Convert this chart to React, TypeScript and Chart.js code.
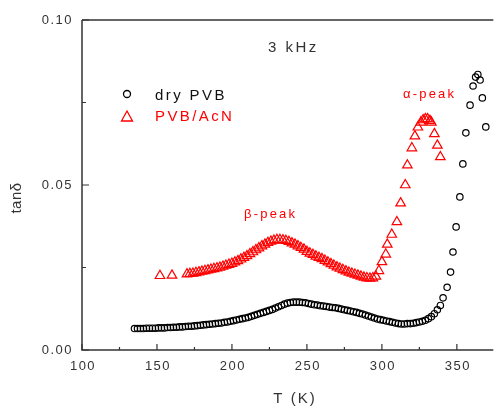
import React, { useEffect, useRef } from "react";
import { Chart, registerables } from "chart.js";

Chart.register(...registerables);

// ---- data ----
const dryT = [
  135, 137, 139, 141, 143, 145, 147, 149, 151, 153, 155, 157, 159, 161, 163, 165, 167, 169, 171, 173,
  175, 177, 179, 181, 183, 185, 187, 189, 191, 193, 195, 197, 199, 201, 203, 205, 207, 209, 211, 213,
  215, 217, 219, 221, 223, 225, 227, 229, 231, 233, 235, 237, 239, 241, 243, 245, 247, 249, 251, 253,
  255, 257, 259, 261, 263, 265, 267, 269, 271, 273, 275, 277, 279, 281, 283, 285, 287, 289, 291, 293,
  295, 297, 299, 301, 303, 305, 307, 309, 311, 313, 315, 317, 319, 321, 323, 325, 327, 329, 331, 333,
  335, 337, 339, 340.8, 343.5, 345.8, 347.4, 349.5, 352, 354, 356, 358.8, 360.8, 362.5, 364, 365.5, 367, 369.3,
];
const dryTan = [
  0.0065, 0.0065, 0.0065, 0.0065, 0.0066, 0.0066, 0.0066, 0.0066, 0.0067, 0.0067, 0.0067, 0.0068, 0.0068, 0.0069, 0.0069, 0.007, 0.007, 0.0071, 0.0072, 0.0072,
  0.0073, 0.0074, 0.0075, 0.0076, 0.0077, 0.0078, 0.0079, 0.008, 0.0081, 0.0082, 0.0084, 0.0085, 0.0087, 0.0089, 0.0091, 0.0093, 0.0095, 0.0097, 0.0099, 0.0102,
  0.0105, 0.0108, 0.0111, 0.0114, 0.0117, 0.012, 0.0123, 0.0127, 0.0131, 0.0135, 0.0139, 0.0142, 0.0144, 0.0145, 0.0145, 0.0145, 0.0144, 0.0143, 0.0141, 0.0139,
  0.0137, 0.0136, 0.0134, 0.0133, 0.0132, 0.013, 0.0129, 0.0128, 0.0126, 0.0124, 0.0122, 0.012, 0.0118, 0.0116, 0.0114, 0.0111, 0.0109, 0.0106, 0.0103, 0.01,
  0.0097, 0.0094, 0.0092, 0.009, 0.0088, 0.0086, 0.0084, 0.0082, 0.008, 0.0079, 0.0079, 0.008, 0.008, 0.0081, 0.0083, 0.0085, 0.0087, 0.009, 0.0095, 0.0101,
  0.011, 0.0122, 0.0135, 0.0158, 0.019, 0.0236, 0.0297, 0.0373, 0.0464, 0.0564, 0.0658, 0.0742, 0.08, 0.0827, 0.0835, 0.0818, 0.0764, 0.0676,
];

const acnT = [
  152, 160, 170, 172, 174, 176, 178, 180, 182, 184, 186, 188, 190, 192, 194, 196, 198, 200, 202, 204,
  206, 208, 210, 212, 214, 216, 218, 220, 222, 224, 226, 228, 230, 232, 234, 236, 238, 240, 242, 244,
  246, 248, 250, 252, 254, 256, 258, 260, 262, 264, 266, 268, 270, 272, 274, 276, 278, 280, 282, 284,
  286, 288, 290, 292, 294, 296, 298, 300, 302.6, 303.6, 306.6, 310, 312.5, 315.6, 317, 320, 322, 324, 326, 327.5,
  329, 330.5, 332, 333, 335, 337, 339,
];
const acnTan = [
  0.0225, 0.0226, 0.023, 0.0231, 0.0232, 0.0234, 0.0236, 0.0238, 0.024, 0.0242, 0.0244, 0.0246, 0.0248, 0.025, 0.0253, 0.0256, 0.0259, 0.0262, 0.0266, 0.027,
  0.0275, 0.028, 0.0285, 0.0291, 0.0297, 0.0303, 0.0309, 0.0315, 0.032, 0.0325, 0.0329, 0.0332, 0.0334, 0.0334, 0.0333, 0.0331, 0.0328, 0.0324, 0.032, 0.0315,
  0.031, 0.0305, 0.0298, 0.0293, 0.0289, 0.0284, 0.028, 0.0276, 0.0271, 0.0266, 0.0261, 0.0256, 0.0251, 0.0247, 0.0243, 0.0239, 0.0235, 0.0232, 0.0229, 0.0226,
  0.0223, 0.022, 0.0218, 0.0217, 0.0218, 0.0223, 0.024, 0.0267, 0.029, 0.032, 0.035, 0.0388, 0.0445, 0.05, 0.056, 0.0612, 0.0648, 0.0675, 0.069, 0.0697,
  0.07, 0.07, 0.0695, 0.069, 0.0655, 0.062, 0.0585,
];

const seriesNames = ["dry PVB", "PVB/AcN"];
const xMajorTicks = [100, 150, 200, 250, 300, 350];
const xMinorTicks = [125, 175, 225, 275, 325];
const yMajorTicks = [0, 0.05, 0.1];
const yMinorTicks = [0.025, 0.075];
const yTickLabels = ["0.00", "0.05", "0.10"];

const FONT = "Arial, 'Liberation Sans', sans-serif";
const AXIS_COLOR = "#333";
const RED = "#ff0000";

const overlay = {
  id: "overlay",
  afterDraw(chart: any) {
    const { ctx, chartArea: a, scales } = chart;
    const xs = scales.x;
    const ys = scales.y;
    ctx.save();
    // frame
    ctx.strokeStyle = AXIS_COLOR;
    ctx.lineWidth = 1.5;
    ctx.beginPath();
    ctx.moveTo(a.left, a.top);
    ctx.lineTo(a.right, a.top);
    ctx.moveTo(a.left, a.top);
    ctx.lineTo(a.left, a.bottom);
    ctx.lineTo(a.right, a.bottom);
    ctx.stroke();
    // ticks
    ctx.lineWidth = 1.2;
    ctx.beginPath();
    xMajorTicks.forEach((v) => {
      const px = xs.getPixelForValue(v);
      ctx.moveTo(px, a.bottom);
      ctx.lineTo(px, a.bottom - 6);
    });
    xMinorTicks.forEach((v) => {
      const px = xs.getPixelForValue(v);
      ctx.moveTo(px, a.bottom);
      ctx.lineTo(px, a.bottom - 3);
    });
    yMajorTicks.forEach((v) => {
      const py = ys.getPixelForValue(v);
      ctx.moveTo(a.left, py);
      ctx.lineTo(a.left + 7, py);
    });
    yMinorTicks.forEach((v) => {
      const py = ys.getPixelForValue(v);
      ctx.moveTo(a.left, py);
      ctx.lineTo(a.left + 4, py);
    });
    ctx.stroke();

    // tick labels
    ctx.fillStyle = "#333";
    ctx.font = `13px ${FONT}`;
    (ctx as any).letterSpacing = "1.5px";
    ctx.textBaseline = "middle";
    ctx.textAlign = "center";
    xMajorTicks.forEach((v) => {
      ctx.fillText(String(v), xs.getPixelForValue(v) + 1, a.bottom + 16);
    });
    ctx.textAlign = "right";
    yMajorTicks.forEach((v, i) => {
      ctx.fillText(yTickLabels[i], a.left - 9, ys.getPixelForValue(v));
    });

    // axis titles
    ctx.font = `15px ${FONT}`;
    (ctx as any).letterSpacing = "2px";
    ctx.textAlign = "center";
    ctx.fillText("T (K)", 295, 399);
    ctx.save();
    ctx.translate(17, 198);
    ctx.rotate(-Math.PI / 2);
    (ctx as any).letterSpacing = "0.5px";
    ctx.fillText("tanδ", 0, 0);
    ctx.restore();

    // 3 kHz
    ctx.textAlign = "left";
    ctx.font = `15px ${FONT}`;
    (ctx as any).letterSpacing = "2.5px";
    ctx.fillText("3 kHz", 268, 48);

    // peaks
    ctx.fillStyle = RED;
    ctx.font = `13px ${FONT}`;
    (ctx as any).letterSpacing = "2.2px";
    ctx.fillText("α-peak", 403, 94);
    ctx.fillText("β-peak", 244, 214);

    // legend
    ctx.font = `15px ${FONT}`;
    (ctx as any).letterSpacing = "2.4px";
    ctx.fillStyle = "#111";
    ctx.fillText(seriesNames[0], 155, 96);
    ctx.fillStyle = RED;
    ctx.fillText(seriesNames[1], 155, 117);
    ctx.lineWidth = 1.3;
    ctx.strokeStyle = "#000";
    ctx.beginPath();
    ctx.arc(127, 94, 3.5, 0, Math.PI * 2);
    ctx.stroke();
    ctx.strokeStyle = RED;
    ctx.beginPath();
    ctx.moveTo(127, 111);
    ctx.lineTo(132.5, 121);
    ctx.lineTo(121.5, 121);
    ctx.closePath();
    ctx.stroke();
    ctx.restore();
  },
};

export default function App() {
  const ref = useRef<HTMLCanvasElement>(null);
  useEffect(() => {
    document.body.style.margin = "0";
    const chart = new Chart(ref.current as HTMLCanvasElement, {
      type: "scatter",
      data: {
        datasets: [
          {
            label: seriesNames[0],
            data: dryT.map((t, i) => ({ x: t, y: dryTan[i] })),
            pointStyle: "circle",
            pointRadius: 3.2,
            borderWidth: 1.2,
            borderColor: "#000",
            backgroundColor: "rgba(0,0,0,0)",
          },
          {
            label: seriesNames[1],
            data: acnT.map((t, i) => ({ x: t, y: acnTan[i] })),
            pointStyle: "triangle",
            pointRadius: 5.5,
            borderWidth: 1.2,
            borderColor: RED,
            backgroundColor: "rgba(0,0,0,0)",
          },
        ],
      },
      options: {
        animation: false,
        responsive: false,
        events: [],
        layout: { padding: { top: 20, right: 0, left: 0, bottom: 0 } },
        plugins: { legend: { display: false }, tooltip: { enabled: false } },
        scales: {
          x: {
            type: "linear",
            min: 100,
            max: 374.3,
            grid: { display: false },
            border: { display: false },
            ticks: { display: false },
            afterFit: (s: any) => {
              s.height = 58;
            },
          },
          y: {
            type: "linear",
            min: 0,
            max: 0.1,
            grid: { display: false },
            border: { display: false },
            ticks: { display: false },
            afterFit: (s: any) => {
              s.width = 82;
            },
          },
        },
      },
      plugins: [overlay],
    });
    return () => chart.destroy();
  }, []);
  return (
    <div style={{ width: 500, height: 408, position: "relative", background: "#fff" }}>
      <canvas ref={ref} width={500} height={408} style={{ display: "block" }} />
    </div>
  );
}
